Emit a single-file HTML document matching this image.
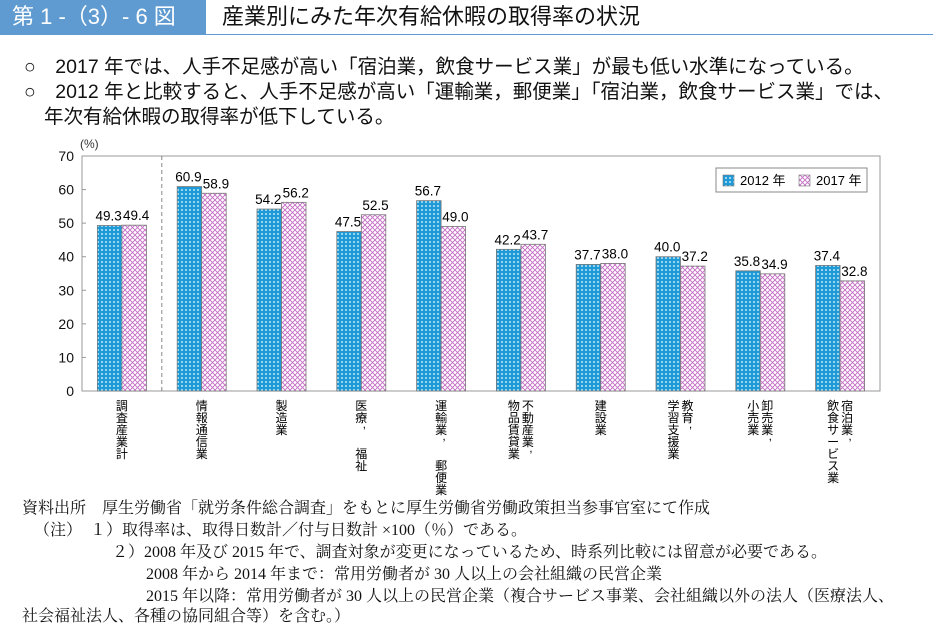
<!DOCTYPE html>
<html><head><meta charset="utf-8">
<style>
body{margin:0;width:933px;height:625px;background:#fff;position:relative;overflow:hidden;font-family:"Liberation Sans","Noto Sans CJK JP",sans-serif;color:#111}
.abs{position:absolute;white-space:nowrap}
.note{font-family:"Liberation Serif","Noto Serif CJK SC",serif;font-size:16px}
</style></head><body>
<div class="abs" style="left:0;top:0;width:206px;height:34px;background:#5f9bd0;color:#fff;font-size:22px;line-height:34px;padding-left:12px;box-sizing:border-box">第 1 -（3）- 6 図</div>
<div class="abs" style="left:222px;top:0;font-size:22px;line-height:34px">産業別にみた年次有給休暇の取得率の状況</div>
<div class="abs" style="left:0;top:34px;width:933px;height:1px;background:#5f9bd0"></div>
<div class="abs" style="left:24px;top:50px;font-size:19.5px">○　2017 年では、人手不足感が高い「宿泊業，飲食サービス業」が最も低い水準になっている。</div>
<div class="abs" style="left:24px;top:75px;font-size:19.5px">○　2012 年と比較すると、人手不足感が高い「運輸業，郵便業」「宿泊業，飲食サービス業」では、</div>
<div class="abs" style="left:44px;top:100px;font-size:19.5px">年次有給休暇の取得率が低下している。</div>

<svg class="abs" style="left:0;top:0" width="933" height="625">
<defs>
<pattern id="p12" width="4" height="4" patternUnits="userSpaceOnUse"><rect width="4" height="4" fill="#1e9ad6"/><circle cx="2" cy="2" r="1" fill="#bfe6f7"/></pattern>
<pattern id="p17" width="5" height="5" patternUnits="userSpaceOnUse"><rect width="5" height="5" fill="#fff"/><path d="M0,0L5,5M5,0L0,5" stroke="#c46cc4" stroke-width="0.9"/></pattern>
</defs>
<g id="g"></g>
</svg>

<div class="abs note" style="left:22px;top:495px">資料出所　厚生労働省「就労条件総合調査」をもとに厚生労働省労働政策担当参事官室にて作成</div>
<div class="abs note" style="left:34px;top:517px">（注）　１）取得率は、取得日数計／付与日数計 ×100（％）である。</div>
<div class="abs note" style="left:112px;top:539px">２）2008 年及び 2015 年で、調査対象が変更になっているため、時系列比較には留意が必要である。</div>
<div class="abs note" style="left:146px;top:561px">2008 年から 2014 年まで：常用労働者が 30 人以上の会社組織の民営企業</div>
<div class="abs note" style="left:146px;top:583px">2015 年以降：常用労働者が 30 人以上の民営企業（複合サービス事業、会社組織以外の法人（医療法人、</div>
<div class="abs note" style="left:22px;top:603px">社会福祉法人、各種の協同組合等）を含む。）</div>

<script>
const categories=[["調査産業計"],["情報通信業"],["製造業"],["医療，","福祉"],["運輸業，","郵便業"],["不動産業，","物品賃貸業"],["建設業"],["教育，","学習支援業"],["卸売業，","小売業"],["宿泊業，","飲食サービス業"]];
const values2012=[49.3,60.9,54.2,47.5,56.7,42.2,37.7,40.0,35.8,37.4];
const values2017=[49.4,58.9,56.2,52.5,49.0,43.7,38.0,37.2,34.9,32.8];
const yTicks=[0,10,20,30,40,50,60,70];
const NS="http://www.w3.org/2000/svg";
const g=document.getElementById('g');
const L=82,R=880,T=156,B=391,yMax=70;
const y=v=>B-(v/yMax)*(B-T);
const bw=(R-L)/categories.length;
const xc=i=>L+bw*(i+0.5);
function mk(tag,a,txt){const e=document.createElementNS(NS,tag);for(const k in a)e.setAttribute(k,a[k]);if(txt!=null)e.textContent=txt;g.appendChild(e);return e;}
let e;
e=mk('rect',{x:L,y:T,width:R-L,height:B-T,fill:'none',stroke:'#999','stroke-width':1});


yTicks.forEach(t=>{
 e=mk('text',{x:L-8,y:y(t)+5,'text-anchor':'end','font-size':14,fill:'#111'},t);
 
 
 e=mk('line',{x1:L,x2:L+4,y1:y(t),y2:y(t),stroke:'#999'});
 
 
});
e=mk('text',{x:L-2,y:T-8,'font-size':12,fill:'#333'},'(%)');


e=mk('line',{x1:L+bw,x2:L+bw,y1:T,y2:B,stroke:'#888','stroke-dasharray':'4,3'});


const w=24.5, CH=12;
function vchar(ch,x,yy){
 if(ch==='，'){
  e=mk('text',{x:x+3,y:yy-6,'text-anchor':'middle','font-size':12},',');
 } else {
  e=mk('text',{x:x,y:yy,'text-anchor':'middle','font-size':12},ch);
 }
 
 
}
categories.forEach((c,i)=>{
 const cx=xc(i);
 e=mk('rect',{x:cx-w,y:y(values2012[i]),width:w,height:B-y(values2012[i]),fill:'url(#p12)',stroke:'#777','stroke-width':0.8});
 
 
 e=mk('rect',{x:cx,y:y(values2017[i]),width:w,height:B-y(values2017[i]),fill:'url(#p17)',stroke:'#777','stroke-width':0.8});
 
 
 e=mk('text',{x:cx-w/2-1,y:y(values2012[i])-5,'text-anchor':'middle','font-size':13.5},values2012[i].toFixed(1));
 
 
 e=mk('text',{x:cx+w/2+2,y:y(values2017[i])-5,'text-anchor':'middle','font-size':13.5},values2017[i].toFixed(1));
 
 
 const top=410;
 if(c.length===1){
  [...c[0]].forEach((ch,k)=>vchar(ch,cx,top+k*CH));
 } else if(c[0]==="医療，"||c[0]==="運輸業，"){
  const a=[...c[0]];
  a.forEach((ch,k)=>vchar(ch,cx,top+k*CH));
  [...c[1]].forEach((ch,k)=>vchar(ch,cx,top+(a.length+1)*CH+k*CH));
 } else {
  [...c[0]].forEach((ch,k)=>vchar(ch,cx+7,top+k*CH));
  [...c[1]].forEach((ch,k)=>vchar(ch,cx-7,top+k*CH));
 }
});
e=mk('rect',{x:716,y:168,width:151,height:24,fill:'#fff',stroke:'#888'});


e=mk('rect',{x:723,y:175,width:11,height:11,fill:'url(#p12)',stroke:'#777','stroke-width':0.6});


e=mk('text',{x:740,y:185,'font-size':13},'2012 年');


e=mk('rect',{x:799,y:175,width:11,height:11,fill:'url(#p17)',stroke:'#777','stroke-width':0.6});


e=mk('text',{x:816,y:185,'font-size':13},'2017 年');


</script>
</body></html>
